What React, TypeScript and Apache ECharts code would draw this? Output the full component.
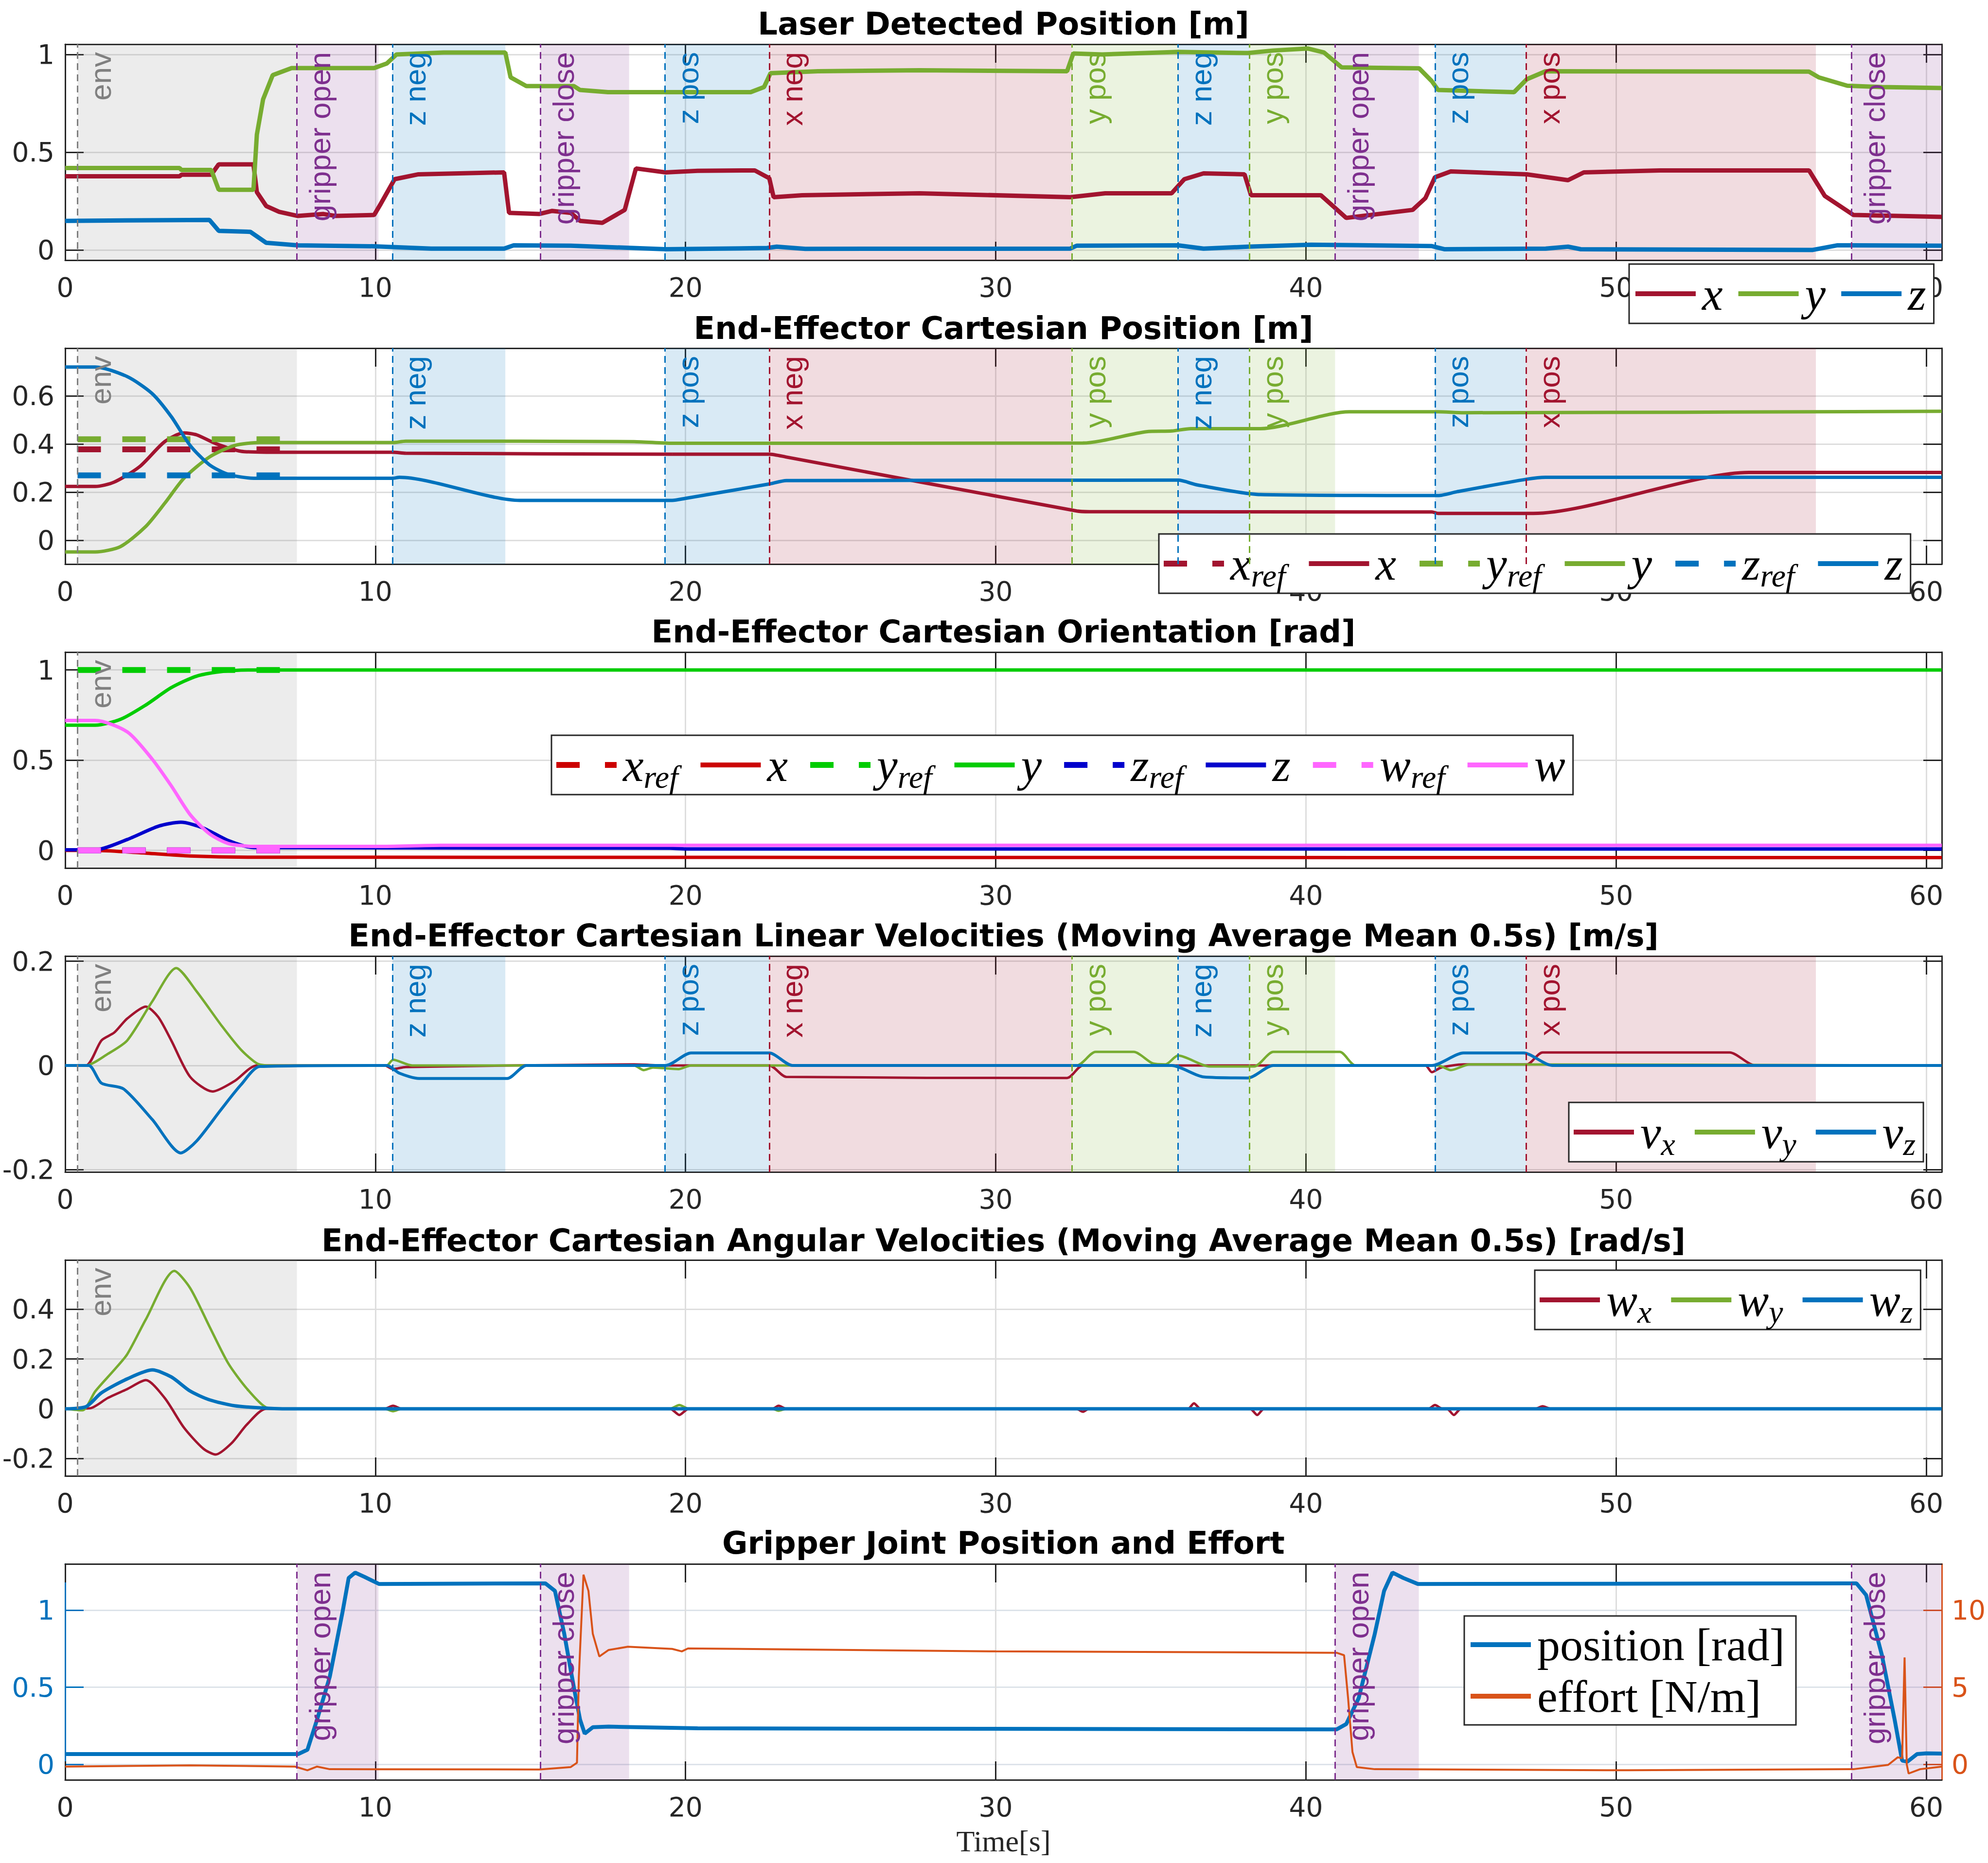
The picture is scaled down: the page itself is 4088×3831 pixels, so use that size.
import React, { useEffect, useRef } from 'react';
import * as echarts from 'echarts';

type Pts = [number, number][];

// ---------------- annotation events ----------------
const EVENT_LABELS = ['env', 'gripper open', 'z neg', 'gripper close', 'z pos', 'x neg', 'y pos', 'z neg', 'y pos', 'gripper open', 'z pos', 'x pos', 'gripper close'];
const EVENT_KINDS = ['env', 'gripper', 'z', 'gripper', 'z', 'x', 'y', 'z', 'y', 'gripper', 'z', 'x', 'gripper'];
const EVENT_START = [0.4, 7.47, 10.55, 15.32, 19.34, 22.7, 32.46, 35.88, 38.18, 40.94, 44.16, 47.1, 57.59];
const EVENT_END = [7.47, 10.1, 14.19, 18.18, 22.7, 32.46, 35.88, 38.18, 40.94, 43.64, 47.1, 56.44, 60.5];
const PLOT_EVENT_KINDS = [
  ['env', 'gripper', 'x', 'y', 'z'],
  ['env', 'x', 'y', 'z'],
  ['env'],
  ['env', 'x', 'y', 'z'],
  ['env'],
  ['gripper'],
];

// ---------------- axes ----------------
const TITLES = [
  'Laser Detected Position [m]',
  'End-Effector Cartesian Position [m]',
  'End-Effector Cartesian Orientation [rad]',
  'End-Effector Cartesian Linear Velocities (Moving Average Mean 0.5s) [m/s]',
  'End-Effector Cartesian Angular Velocities (Moving Average Mean 0.5s) [rad/s]',
  'Gripper Joint Position and Effort',
];
const X_MIN = 0;
const X_MAX = 60.5;
const X_TICKS = [0, 10, 20, 30, 40, 50, 60];
const Y_TICKS = [[0, 0.5, 1], [0, 0.2, 0.4, 0.6], [0, 0.5, 1], [-0.2, 0, 0.2], [-0.2, 0, 0.2, 0.4], [0, 0.5, 1]];
const Y_MIN = [-0.052, -0.0986, -0.098, -0.2045, -0.27, -0.1];
const Y_MAX = [1.052, 0.798, 1.099, 0.21, 0.598, 1.3];
const EFFORT_TICKS = [0, 5, 10];
const EFFORT_MIN = -1;
const EFFORT_MAX = 13;
const X_NAME = 'Time[s]';

// ---------------- plot 1: laser detected position ----------------
const LASER_X: Pts = [[0, 0.377], [3.69, 0.377], [3.75, 0.385], [4.71, 0.385], [4.95, 0.438], [6.07, 0.438], [6.18, 0.296], [6.48, 0.225], [6.9, 0.195], [7.5, 0.174], [8.33, 0.184], [8.73, 0.174], [9.96, 0.179], [10.17, 0.235], [10.62, 0.362], [11.39, 0.387], [14.15, 0.397], [14.31, 0.19], [15.28, 0.184], [15.7, 0.2], [16.3, 0.19], [16.6, 0.149], [17.32, 0.139], [18.04, 0.205], [18.4, 0.417], [19.36, 0.397], [20.39, 0.405], [22.23, 0.407], [22.7, 0.367], [22.84, 0.27], [23.76, 0.28], [27.54, 0.29], [32.4, 0.27], [33.53, 0.29], [35.67, 0.29], [36.08, 0.362], [36.7, 0.392], [38.02, 0.387], [38.23, 0.28], [40.48, 0.28], [41.3, 0.164], [43.44, 0.205], [43.85, 0.265], [44.16, 0.372], [44.67, 0.402], [47.12, 0.387], [48.45, 0.357], [48.96, 0.397], [51.41, 0.407], [56.22, 0.407], [56.73, 0.276], [57.65, 0.179], [60.5, 0.169]];
const LASER_Y: Pts = [[0, 0.419], [3.69, 0.419], [3.75, 0.409], [4.71, 0.409], [4.95, 0.308], [6.07, 0.308], [6.18, 0.59], [6.38, 0.77], [6.69, 0.894], [7.3, 0.93], [9.96, 0.93], [10.37, 0.954], [10.68, 1.0], [12.2, 1.01], [14.19, 1.01], [14.36, 0.883], [14.87, 0.838], [16.4, 0.838], [16.6, 0.818], [17.5, 0.807], [22.1, 0.807], [22.53, 0.833], [22.74, 0.904], [24.27, 0.914], [27.54, 0.919], [32.3, 0.914], [32.5, 1.005], [33.43, 1.0], [35.88, 1.013], [38.13, 1.007], [38.95, 1.02], [40.07, 1.03], [40.58, 1.01], [41.15, 0.934], [43.65, 0.929], [44.06, 0.863], [44.26, 0.818], [46.71, 0.807], [47.12, 0.873], [47.73, 0.914], [56.22, 0.912], [56.53, 0.883], [57.45, 0.84], [58.57, 0.833], [60.5, 0.828]];
const LASER_Z: Pts = [[0, 0.149], [4.65, 0.154], [4.95, 0.098], [5.97, 0.093], [6.48, 0.037], [7.5, 0.024], [9.96, 0.019], [11.8, 0.007], [14.15, 0.007], [14.46, 0.024], [16.3, 0.022], [19.36, 0.004], [22.63, 0.01], [22.94, 0.017], [23.86, 0.006], [32.4, 0.007], [32.61, 0.022], [35.88, 0.024], [36.7, 0.007], [38.13, 0.017], [40.17, 0.027], [44.06, 0.02], [44.46, 0.004], [47.73, 0.007], [48.45, 0.017], [48.86, 0.004], [56.32, 0], [57.14, 0.024], [60.5, 0.022]];

// ---------------- plot 2: cartesian position ----------------
const REF_T = [0.4, 7.2];
const POS_X_REF = [0.378, 0.378];
const POS_Y_REF = [0.42, 0.42];
const POS_Z_REF = [0.27, 0.27];
const POS_X: Pts = [[0, 0.224], [0.97, 0.224], [1.58, 0.242], [2.4, 0.306], [3.21, 0.41], [3.83, 0.446], [4.24, 0.438], [4.85, 0.402], [5.67, 0.37], [6.49, 0.366], [10.57, 0.366], [10.98, 0.362], [19.57, 0.358], [22.7, 0.358], [23.25, 0.346], [32.61, 0.122], [33.02, 0.119], [44.06, 0.118], [44.26, 0.112], [47.33, 0.112], [54.28, 0.282], [60.5, 0.282]];
const POS_Y: Pts = [[0, -0.048], [0.97, -0.048], [1.78, -0.026], [2.6, 0.058], [3.21, 0.154], [3.83, 0.258], [4.65, 0.346], [5.46, 0.394], [6.28, 0.406], [10.57, 0.406], [10.98, 0.412], [18.34, 0.41], [19.57, 0.403], [32.81, 0.404], [34.86, 0.451], [35.67, 0.454], [36.29, 0.464], [38.54, 0.464], [41.4, 0.534], [44.26, 0.534], [45.08, 0.53], [60.5, 0.536]];
const POS_Z: Pts = [[0, 0.72], [0.97, 0.72], [2.0, 0.68], [2.8, 0.61], [3.42, 0.514], [4.03, 0.394], [4.65, 0.314], [5.26, 0.274], [6.08, 0.258], [10.57, 0.258], [10.78, 0.262], [14.66, 0.166], [19.57, 0.166], [19.98, 0.174], [22.7, 0.234], [23.25, 0.248], [35.88, 0.25], [36.5, 0.23], [38.54, 0.19], [44.26, 0.186], [44.87, 0.202], [47.12, 0.254], [47.73, 0.262], [60.5, 0.262]];

// ---------------- plot 3: orientation ----------------
const ORI_X_REF = [0, 0];
const ORI_Y_REF = [1, 1];
const ORI_Z_REF = [0, 0];
const ORI_W_REF = [0, 0];
const ORI_X: Pts = [[0, 0], [0.97, 0], [2.4, -0.013], [4.03, -0.031], [6.08, -0.038], [60.5, -0.04]];
const ORI_Y: Pts = [[0, 0.694], [0.97, 0.694], [1.78, 0.726], [2.6, 0.806], [3.42, 0.902], [4.24, 0.966], [5.06, 0.992], [6.08, 1.0], [60.5, 1.0]];
const ORI_Z: Pts = [[0, 0.003], [0.97, 0.003], [2.0, 0.06], [3.01, 0.134], [3.73, 0.156], [4.45, 0.124], [5.26, 0.054], [6.08, 0.015], [19.5, 0.012], [20, 0.008], [60.5, 0.008]];
const ORI_W: Pts = [[0, 0.72], [0.97, 0.72], [2.0, 0.657], [2.8, 0.507], [3.42, 0.358], [4.03, 0.198], [4.65, 0.092], [5.26, 0.038], [6.08, 0.022], [10.1, 0.022], [12.1, 0.028], [60.5, 0.028]];

// ---------------- plot 4: linear velocities ----------------
const VEL_X: Pts = [[0, 0], [0.67, 0], [1.17, 0.048], [1.58, 0.063], [2.0, 0.09], [2.6, 0.113], [3.0, 0.093], [3.42, 0.048], [4.03, -0.022], [4.75, -0.05], [5.46, -0.03], [6.18, 0], [10.3, 0], [10.57, -0.007], [10.98, -0.003], [18.34, 0.002], [19.36, 0], [22.7, 0], [23.25, -0.022], [32.3, -0.024], [32.81, 0], [43.85, 0], [44.06, -0.013], [44.36, -0.004], [45.08, 0.002], [47.12, 0.002], [47.63, 0.025], [53.66, 0.025], [54.48, 0], [60.5, 0]];
const VEL_Y: Pts = [[0, 0], [0.67, 0], [1.37, 0.022], [2.0, 0.048], [2.81, 0.123], [3.58, 0.187], [4.24, 0.142], [5.06, 0.075], [5.67, 0.03], [6.18, 0.004], [6.5, 0], [10.37, 0], [10.57, 0.011], [11.19, 0], [18.34, 0], [18.65, -0.009], [18.95, -0.004], [19.77, -0.007], [20.18, 0], [32.61, 0], [33.22, 0.026], [34.45, 0.026], [35.06, 0.004], [35.47, 0.002], [35.88, 0.019], [36.9, -0.002], [38.33, -0.002], [38.95, 0.026], [41.09, 0.026], [41.6, 0], [44.26, 0], [44.67, -0.009], [45.28, 0.002], [60.5, 0]];
const VEL_Z: Pts = [[0, 0], [0.76, 0], [1.17, -0.034], [1.88, -0.045], [2.81, -0.104], [3.73, -0.168], [4.24, -0.145], [5.06, -0.082], [5.67, -0.037], [6.28, -0.002], [10.37, 0], [10.78, -0.015], [11.41, -0.025], [14.25, -0.025], [14.87, 0], [19.36, 0], [20.18, 0.024], [22.7, 0.024], [23.45, 0], [35.67, 0], [36.7, -0.022], [38.13, -0.024], [38.95, 0], [44.06, 0], [45.08, 0.024], [47.02, 0.024], [47.94, 0], [60.5, 0]];

// ---------------- plot 5: angular velocities ----------------
const ANG_X: Pts = [[0, 0], [0.8, 0.002], [1.37, 0.043], [2.0, 0.079], [2.6, 0.115], [3.21, 0.043], [3.83, -0.076], [4.45, -0.16], [4.85, -0.184], [5.36, -0.139], [5.87, -0.062], [6.48, 0], [10.3, 0], [10.57, 0.012], [10.85, 0], [19.5, 0], [19.8, -0.025], [20.1, 0], [22.8, 0], [23.0, 0.012], [23.25, 0], [32.6, 0], [32.81, -0.012], [33.0, 0], [36.2, 0], [36.39, 0.022], [36.6, 0], [38.2, 0], [38.43, -0.025], [38.65, 0], [43.95, 0], [44.16, 0.015], [44.4, 0], [44.55, 0], [44.77, -0.025], [45.0, 0], [47.4, 0], [47.63, 0.01], [47.9, 0], [60.5, 0]];
const ANG_Y: Pts = [[0, 0], [0.56, -0.006], [0.97, 0.07], [1.58, 0.156], [2.0, 0.219], [2.6, 0.359], [3.52, 0.554], [4.03, 0.485], [4.65, 0.331], [5.26, 0.182], [5.87, 0.079], [6.48, 0.005], [6.9, 0], [10.3, 0], [10.57, -0.01], [10.85, 0], [19.5, 0], [19.8, 0.015], [20.1, 0], [22.8, 0], [23.0, -0.008], [23.25, 0], [60.5, 0]];
const ANG_Z: Pts = [[0, 0], [0.67, 0.008], [1.17, 0.064], [2.0, 0.12], [2.81, 0.156], [3.42, 0.128], [4.03, 0.071], [4.65, 0.036], [5.46, 0.012], [6.48, 0.002], [7.0, 0], [60.5, 0]];

// ---------------- plot 6: gripper ----------------
const GRIP_POS: Pts = [[0, 0.067], [7.51, 0.067], [7.81, 0.095], [8.12, 0.29], [8.53, 0.568], [8.94, 0.986], [9.14, 1.209], [9.35, 1.244], [9.65, 1.216], [10.12, 1.17], [15.48, 1.174], [15.79, 1.125], [16.09, 0.847], [16.4, 0.499], [16.6, 0.29], [16.75, 0.2], [17.01, 0.241], [17.52, 0.245], [20.39, 0.234], [40.99, 0.227], [41.3, 0.262], [41.7, 0.429], [42.22, 0.847], [42.52, 1.125], [42.79, 1.244], [43.14, 1.209], [43.61, 1.17], [57.75, 1.174], [58.06, 1.098], [58.57, 0.708], [58.98, 0.29], [59.22, 0.025], [59.39, 0.018], [59.7, 0.067], [60.0, 0.072], [60.5, 0.07]];
const GRIP_EFFORT: Pts = [[0, -0.14], [4.03, -0.06], [7.41, -0.14], [7.81, -0.38], [8.12, -0.14], [8.53, -0.31], [15.28, -0.33], [16.3, -0.17], [16.5, 0.11], [16.56, 5.68], [16.71, 12.3], [16.87, 11.25], [17.01, 8.47], [17.22, 7.0], [17.52, 7.42], [18.14, 7.63], [19.57, 7.49], [19.88, 7.33], [20.08, 7.52], [30, 7.33], [40.99, 7.24], [41.23, 7.08], [41.36, 4.29], [41.5, 0.81], [41.64, -0.17], [42.22, -0.31], [50.4, -0.38], [57.65, -0.31], [58.77, -0.03], [59.08, 0.46], [59.22, 0.4], [59.3, 6.94], [59.37, 0.0], [59.43, -0.59], [59.8, -0.31], [60.5, -0.14]];

// ---------------- styling ----------------
const FONT = "'DejaVu Sans', sans-serif";
const LABEL_FONT = "'Liberation Sans', 'DejaVu Sans', sans-serif";
const SERIF = "'Liberation Serif', 'DejaVu Serif', serif";
const AX = '#262626';
const GRIDC = '#dedede';
const RED = '#A2142F';
const GREEN = '#77AC30';
const BLUE = '#0072BD';
const ORANGE = '#D95319';
const O_RED = '#CC0000';
const O_GREEN = '#00CC00';
const O_BLUE = '#0000CC';
const O_MAG = '#FF66FF';
const KIND_COLOR: Record<string, string> = { env: '#808080', gripper: '#7E2F8E', x: RED, y: GREEN, z: BLUE };
const KIND_BAND: Record<string, string> = {
  env: 'rgba(128,128,128,0.15)',
  gripper: 'rgba(126,47,142,0.15)',
  x: 'rgba(162,20,47,0.15)',
  y: 'rgba(119,172,48,0.15)',
  z: 'rgba(0,114,189,0.15)',
};
const GRID_TOPS = [91, 716, 1341, 1966, 2591, 3216];
const GRID_H = 444;
const GRID_LEFT = 134;
const GRID_W = 3859;
const TITLE_CY = [49, 675, 1299, 1924, 2551, 3173];
const ICON_SOLID = 'path://M0,0H124V10H0Z';
const ICON_DASH = 'path://M0,0H48V12H0Z M100,0H124V12H100Z';

const LEGEND_TEXT: Record<string, string> = {};
const DASHED = new Set<string>();

function refPts(vals: number[]): Pts {
  return REF_T.map((t, i) => [t, vals[i]] as [number, number]);
}

function mkLine(name: string, label: string, data: Pts, color: string, width: number, gi: number, dashed = false, yIdx?: number, smooth: number | boolean = false) {
  LEGEND_TEXT[name] = label;
  if (dashed) DASHED.add(name);
  return {
    name,
    type: 'line',
    data,
    xAxisIndex: 2 * gi,
    yAxisIndex: yIdx ?? 2 * gi,
    symbol: 'none',
    showSymbol: false,
    silent: true,
    smooth,
    z: 3,
    color,
    lineStyle: { color, width, type: dashed ? [48, 44] : 'solid', cap: 'butt' },
    itemStyle: { color },
  };
}

function bgSeries(gi: number) {
  const kinds = PLOT_EVENT_KINDS[gi];
  const idx = EVENT_KINDS.map((k, i) => (kinds.includes(k) ? i : -1)).filter((i) => i >= 0);
  return {
    type: 'line',
    name: 'bg' + gi,
    data: [[X_MIN, null]],
    xAxisIndex: 2 * gi,
    yAxisIndex: 2 * gi,
    symbol: 'none',
    silent: true,
    z: 1,
    markArea: {
      silent: true,
      data: idx.map((i) => [
        { xAxis: EVENT_START[i], itemStyle: { color: KIND_BAND[EVENT_KINDS[i]] } },
        { xAxis: EVENT_END[i] },
      ]),
    },
    markLine: {
      silent: true,
      symbol: ['none', 'none'],
      animation: false,
      data: idx.map((i) => ({
        xAxis: EVENT_START[i],
        lineStyle: { color: KIND_COLOR[EVENT_KINDS[i]], width: 3, type: [14, 9] },
        label: {
          show: true,
          formatter: EVENT_LABELS[i],
          position: 'insideEndBottom',
          distance: 16,
          color: KIND_COLOR[EVENT_KINDS[i]],
          fontFamily: LABEL_FONT,
          fontSize: 62,
        },
      })),
    },
  };
}

function xAxes(gi: number) {
  const last = gi === 5;
  return [
    {
      type: 'value', gridIndex: gi, min: X_MIN, max: X_MAX, position: 'bottom',
      name: last ? X_NAME : '',
      nameLocation: 'middle', nameGap: 95,
      nameTextStyle: { fontFamily: SERIF, fontSize: 62, color: AX },
      axisLine: { show: true, onZero: false, lineStyle: { color: AX, width: 3 } },
      axisTick: { show: true, inside: true, length: 38, customValues: X_TICKS, lineStyle: { color: AX, width: 3 } },
      axisLabel: { show: true, customValues: X_TICKS, fontFamily: FONT, fontSize: 55, color: AX, margin: 28 },
      splitLine: { show: true, lineStyle: { color: GRIDC, width: 3 } },
    },
    {
      type: 'value', gridIndex: gi, min: X_MIN, max: X_MAX, position: 'top',
      axisLine: { show: true, onZero: false, lineStyle: { color: AX, width: 3 } },
      axisTick: { show: true, inside: true, length: 38, customValues: X_TICKS, lineStyle: { color: AX, width: 3 } },
      axisLabel: { show: false },
      splitLine: { show: false },
    },
  ];
}

function yAxes(gi: number) {
  const last = gi === 5;
  const lc = last ? BLUE : AX;
  const left = {
    type: 'value', gridIndex: gi, min: Y_MIN[gi], max: Y_MAX[gi], position: 'left',
    axisLine: { show: true, onZero: false, lineStyle: { color: lc, width: 3 } },
    axisTick: { show: true, inside: true, length: 38, customValues: Y_TICKS[gi], lineStyle: { color: lc, width: 3 } },
    axisLabel: { show: true, customValues: Y_TICKS[gi], fontFamily: FONT, fontSize: 55, color: lc, margin: 22 },
    splitLine: { show: true, lineStyle: { color: last ? '#dde3ea' : GRIDC, width: 3 } },
  };
  const right = last
    ? {
        type: 'value', gridIndex: gi, min: EFFORT_MIN, max: EFFORT_MAX, position: 'right',
        axisLine: { show: true, onZero: false, lineStyle: { color: ORANGE, width: 3 } },
        axisTick: { show: true, inside: true, length: 38, customValues: EFFORT_TICKS, lineStyle: { color: ORANGE, width: 3 } },
        axisLabel: { show: true, customValues: EFFORT_TICKS, fontFamily: FONT, fontSize: 55, color: ORANGE, margin: 20 },
        splitLine: { show: false },
      }
    : {
        type: 'value', gridIndex: gi, min: Y_MIN[gi], max: Y_MAX[gi], position: 'right',
        axisLine: { show: true, onZero: false, lineStyle: { color: AX, width: 3 } },
        axisTick: { show: true, inside: true, length: 38, customValues: Y_TICKS[gi], lineStyle: { color: AX, width: 3 } },
        axisLabel: { show: false },
        splitLine: { show: false },
      };
  return [left, right];
}

const RICH_MATH = {
  m: { fontFamily: SERIF, fontStyle: 'italic', fontSize: 96, lineHeight: 114, color: '#000', padding: [0, 0, 0, 8] },
  s: { fontFamily: SERIF, fontStyle: 'italic', fontSize: 66, lineHeight: 66, color: '#000', padding: [48, 0, 0, 0] },
  r: { fontFamily: SERIF, fontSize: 94, lineHeight: 100, color: '#000', padding: [0, 0, 0, 8] },
};

function mkLegend(names: string[], left: number, top: number, orient: 'horizontal' | 'vertical', itemGap: number, padding: number[]) {
  return {
    show: true,
    data: names.map((n) => ({ name: n, icon: DASHED.has(n) ? ICON_DASH : ICON_SOLID })),
    left,
    top,
    orient,
    selectedMode: false,
    itemWidth: 124,
    itemHeight: 12,
    itemGap,
    padding,
    borderColor: AX,
    borderWidth: 3,
    borderRadius: 0,
    backgroundColor: '#ffffff',
    formatter: (n: string) => LEGEND_TEXT[n] ?? n,
    textStyle: { rich: RICH_MATH },
  };
}

function buildOption() {
  const series: any[] = [];
  for (let g = 0; g < 6; g++) series.push(bgSeries(g));
  const SM = 0.25;

  series.push(
    mkLine('l_x', '{m|x}', LASER_X, RED, 9, 0),
    mkLine('l_y', '{m|y}', LASER_Y, GREEN, 9, 0),
    mkLine('l_z', '{m|z}', LASER_Z, BLUE, 9, 0),

    mkLine('p_xr', '{m|x}{s|ref}', refPts(POS_X_REF), RED, 12, 1, true),
    mkLine('p_x', '{m|x}', POS_X, RED, 7, 1, false, undefined, SM),
    mkLine('p_yr', '{m|y}{s|ref}', refPts(POS_Y_REF), GREEN, 12, 1, true),
    mkLine('p_y', '{m|y}', POS_Y, GREEN, 7, 1, false, undefined, SM),
    mkLine('p_zr', '{m|z}{s|ref}', refPts(POS_Z_REF), BLUE, 12, 1, true),
    mkLine('p_z', '{m|z}', POS_Z, BLUE, 7, 1, false, undefined, SM),

    mkLine('o_xr', '{m|x}{s|ref}', refPts(ORI_X_REF), O_RED, 12, 2, true),
    mkLine('o_x', '{m|x}', ORI_X, O_RED, 7, 2, false, undefined, SM),
    mkLine('o_yr', '{m|y}{s|ref}', refPts(ORI_Y_REF), O_GREEN, 12, 2, true),
    mkLine('o_y', '{m|y}', ORI_Y, O_GREEN, 7, 2, false, undefined, SM),
    mkLine('o_zr', '{m|z}{s|ref}', refPts(ORI_Z_REF), O_BLUE, 12, 2, true),
    mkLine('o_z', '{m|z}', ORI_Z, O_BLUE, 7, 2, false, undefined, SM),
    mkLine('o_wr', '{m|w}{s|ref}', refPts(ORI_W_REF), O_MAG, 12, 2, true),
    mkLine('o_w', '{m|w}', ORI_W, O_MAG, 7, 2, false, undefined, SM),

    mkLine('v_x', '{m|v}{s|x}', VEL_X, RED, 5, 3, false, undefined, SM),
    mkLine('v_y', '{m|v}{s|y}', VEL_Y, GREEN, 5, 3, false, undefined, SM),
    mkLine('v_z', '{m|v}{s|z}', VEL_Z, BLUE, 6, 3, false, undefined, SM),

    mkLine('w_x', '{m|w}{s|x}', ANG_X, RED, 5, 4, false, undefined, SM),
    mkLine('w_y', '{m|w}{s|y}', ANG_Y, GREEN, 5, 4, false, undefined, SM),
    mkLine('w_z', '{m|w}{s|z}', ANG_Z, BLUE, 7, 4, false, undefined, SM),

    mkLine('g_pos', '{r|position [rad]}', GRIP_POS, BLUE, 8, 5),
    mkLine('g_eff', '{r|effort [N/m]}', GRIP_EFFORT, ORANGE, 4, 5, false, 11),
  );

  const xAxis: any[] = [];
  const yAxis: any[] = [];
  for (let g = 0; g < 6; g++) {
    xAxis.push(...xAxes(g));
    yAxis.push(...yAxes(g));
  }

  return {
    animation: false,
    backgroundColor: '#ffffff',
    title: TITLES.map((t, i) => ({
      text: t,
      left: GRID_LEFT + GRID_W / 2,
      textAlign: 'center',
      top: TITLE_CY[i] - 37,
      padding: 0,
      textStyle: { fontFamily: FONT, fontWeight: 'bold', fontSize: 64, color: '#000', lineHeight: 74 },
    })),
    grid: GRID_TOPS.map((t) => ({ left: GRID_LEFT, top: t, width: GRID_W, height: GRID_H })),
    xAxis,
    yAxis,
    legend: [
      mkLegend(['l_x', 'l_y', 'l_z'], 3350, 543, 'horizontal', 32, [13, 16, 13, 13]),
      mkLegend(['p_xr', 'p_x', 'p_yr', 'p_y', 'p_zr', 'p_z'], 2383, 1098, 'horizontal', 48, [4, 16, 4, 10]),
      mkLegend(['o_xr', 'o_x', 'o_yr', 'o_y', 'o_zr', 'o_z', 'o_wr', 'o_w'], 1134, 1512, 'horizontal', 46, [4, 16, 4, 10]),
      mkLegend(['v_x', 'v_y', 'v_z'], 3226, 2267, 'horizontal', 40, [4, 16, 4, 10]),
      mkLegend(['w_x', 'w_y', 'w_z'], 3156, 2612, 'horizontal', 40, [4, 16, 4, 10]),
      mkLegend(['g_pos', 'g_eff'], 3011, 3323, 'vertical', 12, [12, 23, 12, 13]),
    ],
    series,
  };
}

export default function App() {
  const ref = useRef<HTMLDivElement>(null);
  useEffect(() => {
    if (!ref.current) return;
    const chart = echarts.init(ref.current, null, { renderer: 'svg', width: 4088, height: 3831 });
    chart.setOption(buildOption() as any);
    return () => chart.dispose();
  }, []);
  return (
    <div
      ref={ref}
      style={{ position: 'fixed', left: 0, top: 0, width: 4088, height: 3831, background: '#ffffff' }}
    />
  );
}
